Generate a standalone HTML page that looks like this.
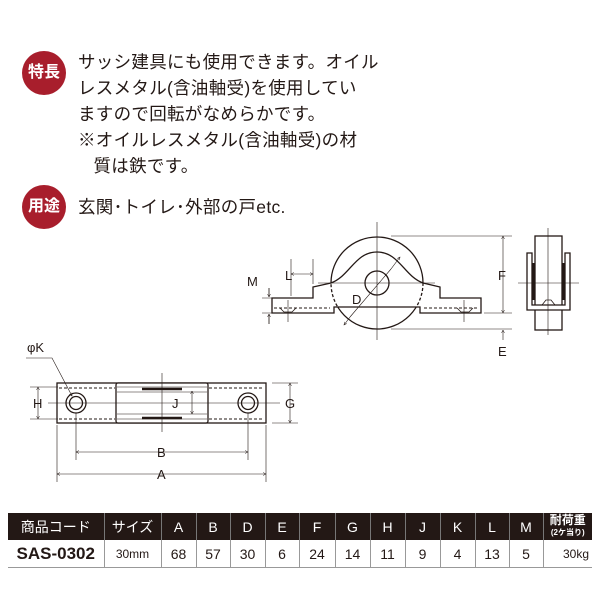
<!DOCTYPE html>
<html><head><meta charset="utf-8"><style>
body{margin:0;width:600px;height:600px;background:#fff;position:relative;overflow:hidden;font-family:"Liberation Sans","Noto Sans CJK JP",sans-serif;color:#231815}
.c{position:absolute;width:44px;height:44px;border-radius:50%;background:#a81e2c;color:#fff;font-weight:bold;font-size:16px;line-height:44px;text-align:center}
.t{position:absolute;left:78px;font-size:17.5px;line-height:26px;white-space:nowrap;letter-spacing:0.3px}
table{position:absolute;left:8px;top:513px;border-collapse:collapse;width:584px;table-layout:fixed}
td{text-align:center;padding:0;font-size:14px;border-left:1px solid #999}
tr.h td{background:#231815;color:#fff;height:27px;border-left:1px solid #777}
tr.d td{height:27px;border-bottom:1px solid #999}
</style></head><body>
<div class="c" style="left:22px;top:51px">特長</div>
<div class="c" style="left:22px;top:185px">用途</div>
<div class="t" style="top:49px">サッシ建具にも使用できます。オイル<br>レスメタル(含油軸受)を使用してい<br>ますので回転がなめらかです。<br>※オイルレスメタル(含油軸受)の材<br>&nbsp;&nbsp;&nbsp;質は鉄です。</div>
<div class="t" style="top:194px">玄関･トイレ･外部の戸etc.</div>
<svg width="600" height="600" style="position:absolute;left:0;top:0" font-family="Liberation Sans,sans-serif" fill="none" stroke="#231815">
<defs><marker id="a" markerWidth="6" markerHeight="6" refX="5" refY="3" orient="auto-start-reverse"><path d="M0,0.5 L5,3 L0,5.5" stroke="#231815" stroke-width="0.8"/></marker>
<clipPath id="cp"><rect x="300" y="283" width="160" height="24"/></clipPath></defs>
<!-- upper front view -->
<g stroke-width="1.3">
<circle cx="377" cy="283" r="46"/>
<path d="M272,298 H313 V287 L331,283 H423 L440,287 V298 H481 V313 H420 V307 H334 V313 H272 Z" fill="#fff" stroke="none"/>
<path d="M272,298 H313 V287 L331,283 C350,276 355,252 377,252 C399,252 404,276 423,283 L440,287 V298 H481 V313 H420 V307 H334 V313 H272 Z"/>
<circle cx="377" cy="283" r="46" clip-path="url(#cp)" stroke-dasharray="3,2"/>
<circle cx="377" cy="283" r="12" fill="#fff"/>
</g>
<path d="M274,308 H330 M424,308 H479" stroke-dasharray="3,2"/>
<path d="M280,308 l4,4 h8 l4,-4 M457,308 l4,4 h8 l4,-4" stroke-width="0.8"/>
<g stroke-width="0.6">
<path d="M377,222 V340 M318,283 H435 M288,300 V322 M464,300 V322 M391,269 L350,317"/>
<path d="M291,259 V296 M313,259 V284" />
<path d="M291,274 H313" marker-start="url(#a)" marker-end="url(#a)"/>
<path d="M262,298 H290 M262,313 H290 M269,288 V297 M269,324 V314" />
<path d="M269,288 V297" marker-end="url(#a)"/><path d="M269,324 V314" marker-end="url(#a)"/>
<path d="M391,269 L400,257" marker-end="url(#a)"/><path d="M350,317 L344,325" marker-end="url(#a)"/>
<path d="M391,236 H512 M484,313 H512 M391,329 H512"/>
<path d="M503,236 V313" marker-start="url(#a)" marker-end="url(#a)"/>
<path d="M503,340 V330" marker-end="url(#a)"/>
</g>
<!-- side view -->
<g stroke-width="1.3">
<rect x="535" y="236" width="27" height="94" fill="#fff"/>
<path d="M527,253 V310 H570 V253 H565 V305 H532 V253 Z" fill="#fff"/>
<path d="M533,263 V300 M564,263 V300" stroke-width="3"/>
<path d="M542,305 l4,-5 h5 l4,5" stroke-width="0.8"/>
</g>
<path d="M548,228 V335 M518,283 H579" stroke-width="0.6"/>
<!-- lower top view -->
<g stroke-width="1.3">
<rect x="57" y="383" width="209" height="40" fill="#fff"/>
<rect x="116" y="383" width="92" height="40" rx="2" fill="#fff"/>
<circle cx="76" cy="403" r="10"/><circle cx="76" cy="403" r="6.5"/>
<circle cx="248" cy="403" r="10"/><circle cx="248" cy="403" r="6.5"/>
<path d="M142,389 H182 M142,418 H182" stroke-width="2.5"/>
</g>
<path d="M59,388 H115 M209,388 H264 M59,419 H115 M209,419 H264" stroke-dasharray="3,2"/>
<path d="M117,387 H207 M117,392 H207 M117,414 H207 M117,419 H207" stroke-width="0.6"/>
<g stroke-width="0.6">
<path d="M162,373 V432 M48,403 H280 M76,413 V460 M248,413 V460 M57,425 V482 M266,425 V482"/>
<path d="M76,452 H248" marker-start="url(#a)" marker-end="url(#a)"/>
<path d="M57,474 H266" marker-start="url(#a)" marker-end="url(#a)"/>
<path d="M30,387 H58 M30,419 H58"/><path d="M38,387 V419" marker-start="url(#a)" marker-end="url(#a)"/>
<path d="M272,383 H298 M272,423 H298"/><path d="M290,383 V423" marker-start="url(#a)" marker-end="url(#a)"/>
<path d="M192,391 V414" marker-start="url(#a)" marker-end="url(#a)"/>
<path d="M26,358 H52 L72,396" marker-end="url(#a)"/>
</g>
<g fill="#231815" stroke="none" font-size="13">
<text x="247" y="286">M</text><text x="285" y="280">L</text><text x="352" y="304">D</text>
<text x="498" y="280">F</text><text x="498" y="356">E</text>
<text x="27" y="352">φK</text><text x="33" y="408">H</text><text x="172" y="408">J</text>
<text x="285" y="408">G</text><text x="157" y="457">B</text><text x="157" y="479">A</text>
</g>
</svg>
<table>
<colgroup><col style="width:96px"><col style="width:57px"><col style="width:35px"><col style="width:34px"><col style="width:35px"><col style="width:34px"><col style="width:36px"><col style="width:35px"><col style="width:35px"><col style="width:35px"><col style="width:35px"><col style="width:34px"><col style="width:34px"><col></colgroup>
<tr class="h"><td style="border-left:none">商品コード</td><td>サイズ</td><td>A</td><td>B</td><td>D</td><td>E</td><td>F</td><td>G</td><td>H</td><td>J</td><td>K</td><td>L</td><td>M</td><td style="font-size:12px;line-height:11px;font-weight:bold">耐荷重<br><span style="font-size:8px">(2ケ当り)</span></td></tr>
<tr class="d"><td style="border-left:none;font-weight:bold;font-size:17px">SAS-0302</td><td style="font-size:12px">30mm</td><td>68</td><td>57</td><td>30</td><td>6</td><td>24</td><td>14</td><td>11</td><td>9</td><td>4</td><td>13</td><td>5</td><td style="text-align:right;padding-right:3px;font-size:12px">30kg</td></tr>
</table>
</body></html>
